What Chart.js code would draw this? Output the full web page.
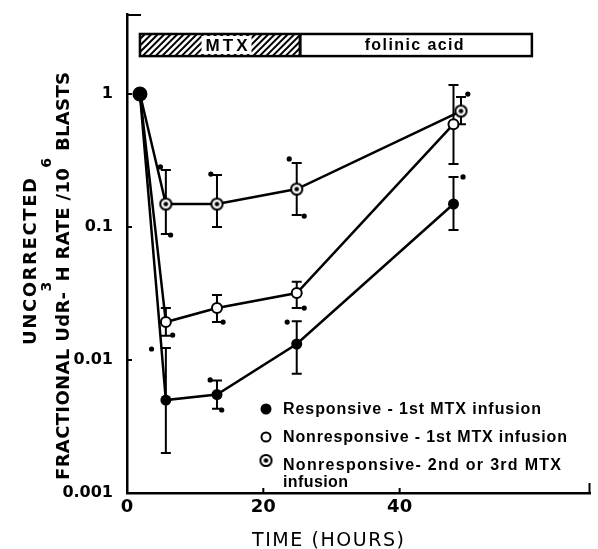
<!DOCTYPE html>
<html><head><meta charset="utf-8">
<script src="https://cdn.jsdelivr.net/npm/chart.js@4/dist/chart.umd.min.js"></script>
<style>html,body{margin:0;padding:0;background:#fff;}#wrap{width:598px;height:549px;position:relative;}</style>
</head><body><div id="wrap"><canvas id="c" width="598" height="549"></canvas></div>
<script>
// ---- data ----
const hoursA = [1.9, 5.7, 13.2, 24.9, 47.9];
const hoursB = [1.9, 5.7, 13.2, 24.9, 49.0];
const responsive      = [1.0, 0.0050, 0.0055, 0.0132, 0.149];
const responsiveLow   = [null, 0.0020, 0.0043, 0.0079, 0.095];
const responsiveHigh  = [null, 0.0123, 0.0070, 0.0196, 0.238];
const nonresp1        = [1.0, 0.0193, 0.0246, 0.0319, 0.594];
const nonresp1Low     = [null, 0.0152, 0.0193, 0.0246, 0.298];
const nonresp1High    = [null, 0.0246, 0.0308, 0.0387, 1.17];
const nonresp2        = [1.0, 0.149, 0.149, 0.193, 0.745];
const nonresp2Low     = [null, 0.0886, 0.100, 0.123, 0.594];
const nonresp2High    = [null, 0.268, 0.246, 0.303, 0.95];
// significance marks (asterisks)
const starX = [4.9, 6.4, 12.3, 23.8, 26.0, 6.7, 14.1, 26.0, 3.6, 12.2, 13.9, 23.5, 49.3, 50.0];
const starY = [0.283, 0.0871, 0.250, 0.325, 0.121, 0.0154, 0.0193, 0.0246, 0.0121, 0.00708, 0.00421, 0.0193, 0.238, 1.0];
const seriesNames = ["Responsive - 1st MTX infusion", "Nonresponsive - 1st MTX infusion", "Nonresponsive- 2nd or 3rd MTX", "infusion"];
const xTicks = [0, 20, 40];
const xTickLabels = ["0", "20", "40"];
const yTicks = [0.001, 0.01, 0.1, 1];
const yTickLabels = ["0.001", "0.01", "0.1", "1"];
const phaseNames = ["MTX", "folinic acid"];
const phaseStart = [1.9, 25.4];
const phaseEnd = [25.4, 59.4];
const phaseLabelX = [14.6, 42.2];
const phaseBandY = [1.93, 2.83];
const xTitle = "TIME (HOURS)";
const yTitle1 = "UNCORRECTED";

const pts = (xs, ys) => xs.map((x, i) => ({x, y: ys[i]}));

function makeDotCircle() {
  const c = document.createElement('canvas'); c.width = 15; c.height = 15;
  const g = c.getContext('2d');
  g.beginPath(); g.arc(7.5, 7.5, 5.6, 0, 2*Math.PI);
  g.fillStyle = '#fff'; g.fill(); g.lineWidth = 2; g.strokeStyle = '#000'; g.stroke();
  g.beginPath(); g.arc(7.5, 7.5, 2.3, 0, 2*Math.PI); g.fillStyle = '#000'; g.fill();
  return c;
}
const dotCircle = makeDotCircle();

function drawSpaced(ctx, text, x, y, target) {
  ctx.letterSpacing = '0px';
  const w = ctx.measureText(text).width;
  const sp = target ? (target - w) / Math.max(1, text.length - 1) : 0;
  ctx.letterSpacing = sp + 'px';
  ctx.fillText(text, x, y);
  ctx.letterSpacing = '0px';
}

const decor = {
  id: 'decor',
  beforeDatasetsDraw(chart) {
    const ctx = chart.ctx, xs = chart.scales.x, ys = chart.scales.y;
    ctx.save();
    ctx.strokeStyle = '#000'; ctx.lineWidth = 2;
    chart.data.datasets.forEach(ds => {
      if (!ds.errLow) return;
      ds.data.forEach((p, j) => {
        const lo = ds.errLow[j], hi = ds.errHigh[j];
        if (lo == null) return;
        const px = xs.getPixelForValue(p.x);
        const yl = ys.getPixelForValue(lo), yh = ys.getPixelForValue(hi);
        ctx.beginPath();
        ctx.moveTo(px, yl); ctx.lineTo(px, yh);
        ctx.moveTo(px - 5, yl); ctx.lineTo(px + 5, yl);
        ctx.moveTo(px - 5, yh); ctx.lineTo(px + 5, yh);
        ctx.stroke();
      });
    });
    ctx.restore();
  },
  afterDraw(chart) {
    const ctx = chart.ctx, xs = chart.scales.x, ys = chart.scales.y;
    const a = chart.chartArea;
    ctx.save();
    ctx.strokeStyle = '#000'; ctx.fillStyle = '#000';
    // inner ticks
    ctx.lineWidth = 2;
    ctx.beginPath();
    yTicks.forEach(v => { if (v > 0.001) { const y = ys.getPixelForValue(v); ctx.moveTo(a.left, y); ctx.lineTo(a.left + 5, y); } });
    xTicks.forEach(v => { if (v > 0) { const x = xs.getPixelForValue(v); ctx.moveTo(x, a.bottom); ctx.lineTo(x, a.bottom - 5); } });
    ctx.moveTo(a.left, a.top + 1); ctx.lineTo(a.left + 14, a.top + 1);
    ctx.moveTo(a.right - 1, a.bottom); ctx.lineTo(a.right - 1, a.bottom - 10);
    ctx.stroke();

    // treatment band
    const yT = ys.getPixelForValue(phaseBandY[1]), yB = ys.getPixelForValue(phaseBandY[0]);
    const x0 = xs.getPixelForValue(phaseStart[0]), x1 = xs.getPixelForValue(phaseEnd[0]), x2 = xs.getPixelForValue(phaseEnd[1]);
    ctx.fillStyle = '#fff'; ctx.fillRect(x0, yT, x2 - x0, yB - yT);
    ctx.save();
    ctx.beginPath(); ctx.rect(x0, yT, x1 - x0, yB - yT); ctx.clip();
    ctx.lineWidth = 2; ctx.strokeStyle = '#000';
    ctx.beginPath();
    for (let s = x0 - 30; s < x1 + 30; s += 6.5) { ctx.moveTo(s, yB); ctx.lineTo(s + (yB - yT), yT); }
    ctx.stroke();
    ctx.restore();
    ctx.font = 'bold 17px "Liberation Sans"';
    ctx.textAlign = 'center'; ctx.textBaseline = 'middle';
    const mx = xs.getPixelForValue(phaseLabelX[0]);
    ctx.fillStyle = '#fff'; ctx.fillRect(mx - 25, yT + 2, 50, yB - yT - 4);
    ctx.fillStyle = '#000';
    ctx.textAlign = 'left';
    drawSpaced(ctx, phaseNames[0], mx - 21, (yT + yB) / 2 + 1, 42);
    const fx = xs.getPixelForValue(phaseLabelX[1]);
    ctx.font = 'bold 16px "Liberation Sans"';
    drawSpaced(ctx, phaseNames[1], fx - 50, (yT + yB) / 2 + 1, 99);
    ctx.lineWidth = 2.5; ctx.strokeRect(x0, yT, x2 - x0, yB - yT);
    ctx.lineWidth = 3; ctx.beginPath(); ctx.moveTo(x1, yT); ctx.lineTo(x1, yB); ctx.stroke();

    // legend
    const lx = 266, rows = [409, 437, 463];
    ctx.beginPath(); ctx.arc(lx, rows[0], 5.5, 0, 2*Math.PI); ctx.fillStyle = '#000'; ctx.fill();
    ctx.beginPath(); ctx.arc(lx, rows[1], 4.5, 0, 2*Math.PI); ctx.fillStyle = '#fff'; ctx.fill(); ctx.lineWidth = 2; ctx.stroke();
    ctx.drawImage(dotCircle, lx - 7.5, rows[2] - 10);
    ctx.fillStyle = '#000';
    ctx.font = 'bold 16px "Liberation Sans"'; ctx.textAlign = 'left'; ctx.textBaseline = 'middle';
    drawSpaced(ctx, seriesNames[0], 283, rows[0] + 1, 258);
    drawSpaced(ctx, seriesNames[1], 283, rows[1] + 1, 284);
    drawSpaced(ctx, seriesNames[2], 283, rows[2] + 3, 278);
    drawSpaced(ctx, seriesNames[3], 283, 483, 65);

    // x title
    ctx.font = '19px "DejaVu Sans"'; ctx.textBaseline = 'alphabetic';
    drawSpaced(ctx, xTitle, 252, 546, 152);

    // y titles
    const nf = 'bold 18px "DejaVu Sans"', sf = 'bold 14px "DejaVu Sans"';
    ctx.save();
    ctx.translate(36, 345); ctx.rotate(-Math.PI / 2);
    ctx.font = nf;
    drawSpaced(ctx, yTitle1, 0, 0, 167);
    ctx.restore();

    const segs = [["FRACTIONAL UdR-", 0], ["3", 1], ["H RATE /10", 0], ["6", 1], [" BLASTS", 0]];
    ctx.letterSpacing = '0px';
    let tot = 0, n = 0;
    segs.forEach(s => { ctx.font = s[1] ? sf : nf; tot += ctx.measureText(s[0]).width; n += s[0].length; });
    const sp = (408 - tot) / (n - 1);
    ctx.save();
    ctx.translate(69, 480); ctx.rotate(-Math.PI / 2);
    let cx = 0;
    segs.forEach(s => {
      ctx.font = s[1] ? sf : nf;
      ctx.letterSpacing = sp + 'px';
      ctx.fillText(s[0], cx, s[1] ? -18 : 0);
      ctx.letterSpacing = '0px';
      cx += ctx.measureText(s[0]).width + sp * s[0].length;
    });
    ctx.restore();
    ctx.restore();
  }
};

new Chart(document.getElementById('c'), {
  type: 'line',
  data: {
    datasets: [
      { label: seriesNames[0], data: pts(hoursA, responsive), errLow: responsiveLow, errHigh: responsiveHigh,
        borderColor: '#000', borderWidth: 2.5, backgroundColor: '#000', pointBackgroundColor: '#000',
        pointBorderColor: '#000', pointRadius: [7.5, 5.5, 5.5, 5.5, 5.5], pointBorderWidth: 0, tension: 0 },
      { label: seriesNames[1], data: pts(hoursA, nonresp1), errLow: nonresp1Low, errHigh: nonresp1High,
        borderColor: '#000', borderWidth: 2.5, pointBackgroundColor: '#fff', pointBorderColor: '#000',
        pointRadius: 5, pointBorderWidth: 2, tension: 0 },
      { label: seriesNames[2], data: pts(hoursB, nonresp2), errLow: nonresp2Low, errHigh: nonresp2High,
        borderColor: '#000', borderWidth: 2.5, pointStyle: dotCircle, tension: 0 },
      { label: 'asterisks', data: pts(starX, starY), showLine: false, pointRadius: 2.6,
        pointBackgroundColor: '#000', pointBorderWidth: 0 }
    ]
  },
  options: {
    responsive: false, animation: false, devicePixelRatio: 1,
    layout: { padding: { top: 14, right: 2, left: 0, bottom: 0 } },
    plugins: { legend: { display: false }, tooltip: { enabled: false } },
    scales: {
      x: {
        type: 'linear', min: 0, max: 68,
        afterBuildTicks: s => { s.ticks = xTicks.map(v => ({value: v})); },
        afterFit: s => { s.height = 56; s.paddingLeft = 0; s.paddingRight = 0; },
        ticks: { callback: (v) => xTickLabels[xTicks.indexOf(v)], color: '#000', font: { family: 'DejaVu Sans', size: 18, weight: 'bold' }, padding: 4, maxRotation: 0 },
        grid: { display: false, drawTicks: false },
        border: { display: true, color: '#000', width: 2.5 }
      },
      y: {
        type: 'logarithmic', min: 0.001, max: 4.0,
        afterBuildTicks: s => { s.ticks = yTicks.map(v => ({value: v})); },
        afterFit: s => { s.width = 127; s.paddingTop = 0; s.paddingBottom = 0; },
        ticks: { callback: (v) => yTickLabels[yTicks.indexOf(v)], color: '#000', font: { family: 'DejaVu Sans', size: 16, weight: 'bold' }, padding: 14 },
        grid: { display: false, drawTicks: false },
        border: { display: true, color: '#000', width: 2.5 }
      }
    }
  },
  plugins: [decor]
});
</script></body></html>
